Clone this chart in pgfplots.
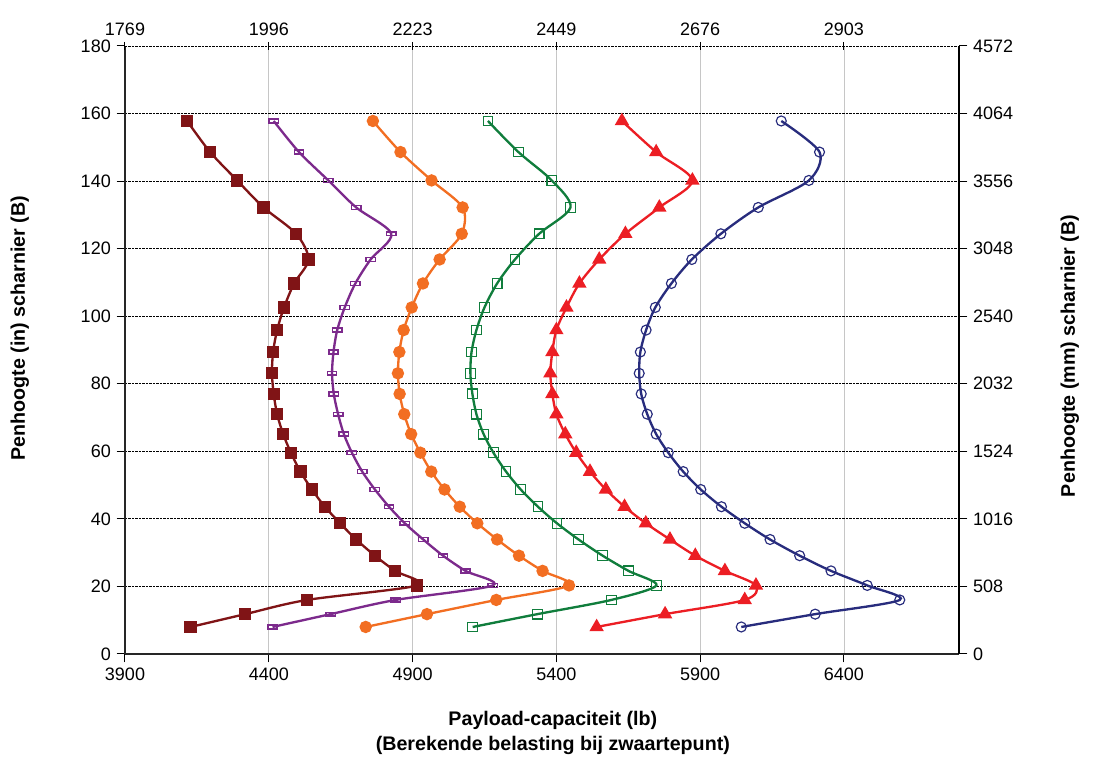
\documentclass[border=0pt]{standalone}
\usepackage{fontspec}
\setmainfont{Liberation Sans}
\usepackage{pgfplots}
\pgfplotsset{compat=1.18}
\usepackage{pgfplotstable}
\definecolor{cbr}{RGB}{128,20,22}
\definecolor{cpu}{RGB}{124,42,140}
\definecolor{cor}{RGB}{242,110,34}
\definecolor{cgr}{RGB}{16,125,60}
\definecolor{crd}{RGB}{236,30,36}
\definecolor{cbl}{RGB}{40,44,125}
\pgfplotstableread{
y br pu or gr rd bl
8 4128 4413 4737 5109 5540 6043
11.8 4318 4615 4950 5334 5778 6300
16 4533 4841 5191 5591 6055 6594
20.3 4915 5179 5444 5748 6094 6481
24.6 4839 5084 5352 5651 5986 6355
29.1 4769 5006 5270 5561 5883 6246
33.9 4704 4937 5194 5477 5795 6143
38.7 4648 4873 5125 5402 5711 6055
43.6 4595 4818 5064 5336 5637 5974
48.7 4550 4769 5011 5276 5572 5902
54.0 4510 4725 4965 5225 5517 5841
59.6 4477 4689 4927 5181 5469 5789
65.1 4450 4661 4895 5147 5431 5747
71.0 4429 4641 4871 5122 5400 5716
77.0 4417 4626 4855 5108 5386 5695
83.1 4411 4620 4849 5101 5379 5688
89.4 4415 4625 4854 5105 5386 5692
95.9 4429 4638 4869 5122 5400 5712
102.6 4453 4664 4897 5150 5435 5744
109.7 4488 4701 4936 5194 5480 5800
116.8 4538 4754 4994 5256 5549 5871
124.4 4495 4826 5071 5340 5640 5972
132.2 4382 4704 5074 5449 5758 6102
140.2 4290 4607 4966 5384 5873 6278
148.6 4196 4505 4858 5268 5747 6315
157.8 4116 4417 4762 5162 5628 6182
}\data
\begin{document}
\begin{tikzpicture}
\path[use as bounding box] (-75pt,-62pt) rectangle (581.4pt,392.4pt);
\pgfplotsset{
  every axis/.append style={
    scale only axis, width=500.4pt, height=364.8pt,
    xmin=3900, xmax=6800, ymin=0, ymax=180,
    xtick={3900,4400,4900,5400,5900,6400},
    ytick={0,20,...,180},
    scaled ticks=false,
    /pgf/number format/assume math mode=true,
    /pgf/number format/1000 sep={},
    tick label style={font=\fontsize{10.8}{13}\selectfont},
    label style={font=\fontsize{11.8}{14.5}\selectfont\bfseries},
    major tick length=5pt,
    tick style={black, line width=0.6pt},
  }
}
\begin{axis}[
  axis x line*=bottom, axis y line*=left,
  axis line style={line width=1.3pt, black!85, -},
  tick align=outside,
  xmajorgrids, ymajorgrids,
  x grid style={gray!45, line width=0.5pt},
  y grid style={black, line width=0.5pt, dash pattern=on 1.3pt off 0.8pt},
  xlabel={Payload-capaciteit (lb)\\(Berekende belasting bij zwaartepunt)},
  xlabel style={align=center, at={(axis description cs:0.513,-0.13)}, anchor=center},
  ylabel={Penhoogte (in) scharnier (B)},
  ylabel style={at={(axis description cs:-0.126,0.536)}, anchor=center},
  every axis plot/.append style={line width=1.4pt, smooth, tension=0.5},
]
\addplot[cbr, mark=square*, mark size=3.0pt, mark options={solid}] table[x=br,y=y]{\data};
\addplot[cpu, mark=square, mark size=2.8pt, mark options={solid, yscale=0.4, line width=0.9pt, fill=white}] table[x=pu,y=y]{\data};
\addplot[cor, mark=*, mark size=3pt, mark options={solid}] table[x=or,y=y]{\data};
\addplot[cgr, mark=square, mark size=2.9pt, mark options={solid, line width=0.7pt}] table[x=gr,y=y]{\data};
\addplot[crd, mark=triangle*, mark size=3.6pt, mark options={solid}] table[x=rd,y=y]{\data};
\addplot[cbl, mark=o, mark size=3pt, mark options={solid, line width=0.7pt}] table[x=bl,y=y]{\data};
\end{axis}
\begin{axis}[
  axis x line*=top, axis y line*=right,
  x axis line style={black, line width=0.5pt, dash pattern=on 1.3pt off 0.8pt, -},
  y axis line style={black, line width=0.8pt, -},
  xtick align=center, ytick align=outside,
  xticklabels={1769,1996,2223,2449,2676,2903},
  yticklabels={0,508,1016,1524,2032,2540,3048,3556,4064,4572},
  ylabel={Penhoogte (mm) scharnier (B)},
  ylabel style={at={(axis description cs:1.133,0.49)}, anchor=center},
]
\end{axis}
\end{tikzpicture}
\end{document}
